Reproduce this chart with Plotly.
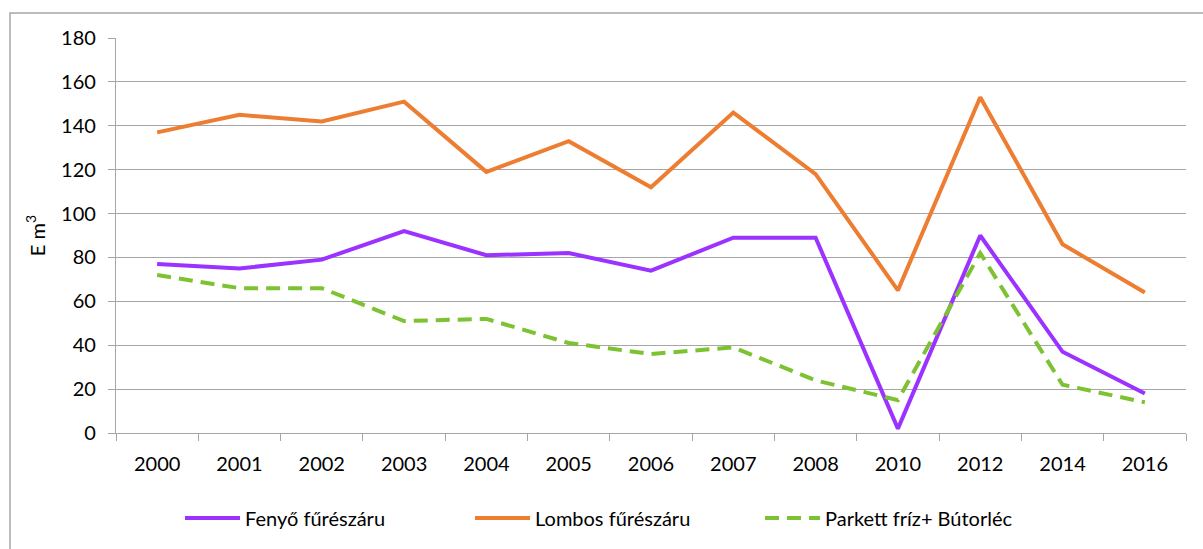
import plotly.graph_objects as go

# Years on the category axis (2008 -> 2010 -> ... two-year steps at the end)
years = ["2000", "2001", "2002", "2003", "2004", "2005", "2006",
         "2007", "2008", "2010", "2012", "2014", "2016"]

# Volumes in thousand m3
fenyo = [77, 75, 79, 92, 81, 82, 74, 89, 89, 2, 90, 37, 18]
lombos = [137, 145, 142, 151, 119, 133, 112, 146, 118, 65, 153, 86, 64]
parkett = [72, 66, 66, 51, 52, 41, 36, 39, 24, 15, 82, 22, 14]

y_ticks = [0, 20, 40, 60, 80, 100, 120, 140, 160, 180]

FONT = "Lato, 'Liberation Sans', sans-serif"
GRID = "#A6A6A6"
L, R, T, B = 116, 17, 38, 116
W, H = 1203, 549
PW, PH = W - L - R, H - T - B

fig = go.Figure()
fig.add_trace(go.Scatter(x=years, y=fenyo, mode="lines", name="Fenyő fűrészáru",
                         line=dict(color="#9B32FF", width=4)))
fig.add_trace(go.Scatter(x=years, y=lombos, mode="lines", name="Lombos fűrészáru",
                         line=dict(color="#ED7D31", width=4)))
fig.add_trace(go.Scatter(x=years, y=parkett, mode="lines", name="Parkett fríz+ Bútorléc",
                         line=dict(color="#7DC233", width=4, dash="14px,8px")))

# Outer chart frame (only its top and left edges fall inside the page)
fig.add_shape(type="rect", xref="paper", yref="paper",
              x0=(10 - L) / PW, x1=(W + 10 - L) / PW,
              y0=-(B + 20) / PH, y1=(H - B - 13) / PH,
              line=dict(color="#A6A6A6", width=1.5), fillcolor="rgba(0,0,0,0)",
              layer="below")

fig.update_layout(
    width=W, height=H,
    margin=dict(l=L, r=R, t=T, b=B, autoexpand=False),
    paper_bgcolor="white", plot_bgcolor="white",
    font=dict(family=FONT, size=20, color="#000000"),
    showlegend=True,
    legend=dict(orientation="h", x=(180 - L) / PW, xanchor="left",
                y=-85 / PH, yanchor="middle",
                font=dict(family=FONT, size=20, color="#000000"),
                itemwidth=55, entrywidth=220, entrywidthmode="pixels",
                bgcolor="rgba(0,0,0,0)"),
    xaxis=dict(type="category", categoryorder="array", categoryarray=years,
               range=[-0.5, len(years) - 0.5],
               showgrid=False, showline=True, linecolor=GRID, linewidth=1.3,
               ticks="outside", tickson="boundaries", ticklen=7, tickcolor=GRID,
               tickwidth=1.3, tickfont=dict(size=20), ticklabelstandoff=13,
               fixedrange=True),
    yaxis=dict(range=[0, 180], tickvals=y_ticks, showgrid=True, gridcolor=GRID,
               gridwidth=1.3, zeroline=False, showline=True, linecolor=GRID,
               linewidth=1.3, ticks="outside", ticklen=7, tickcolor=GRID, tickwidth=1.3,
               tickfont=dict(size=20), ticklabelstandoff=8,
               title=dict(text="E m<sup>3</sup>", font=dict(size=20), standoff=10)),
)

fig.write_html("out.html")
